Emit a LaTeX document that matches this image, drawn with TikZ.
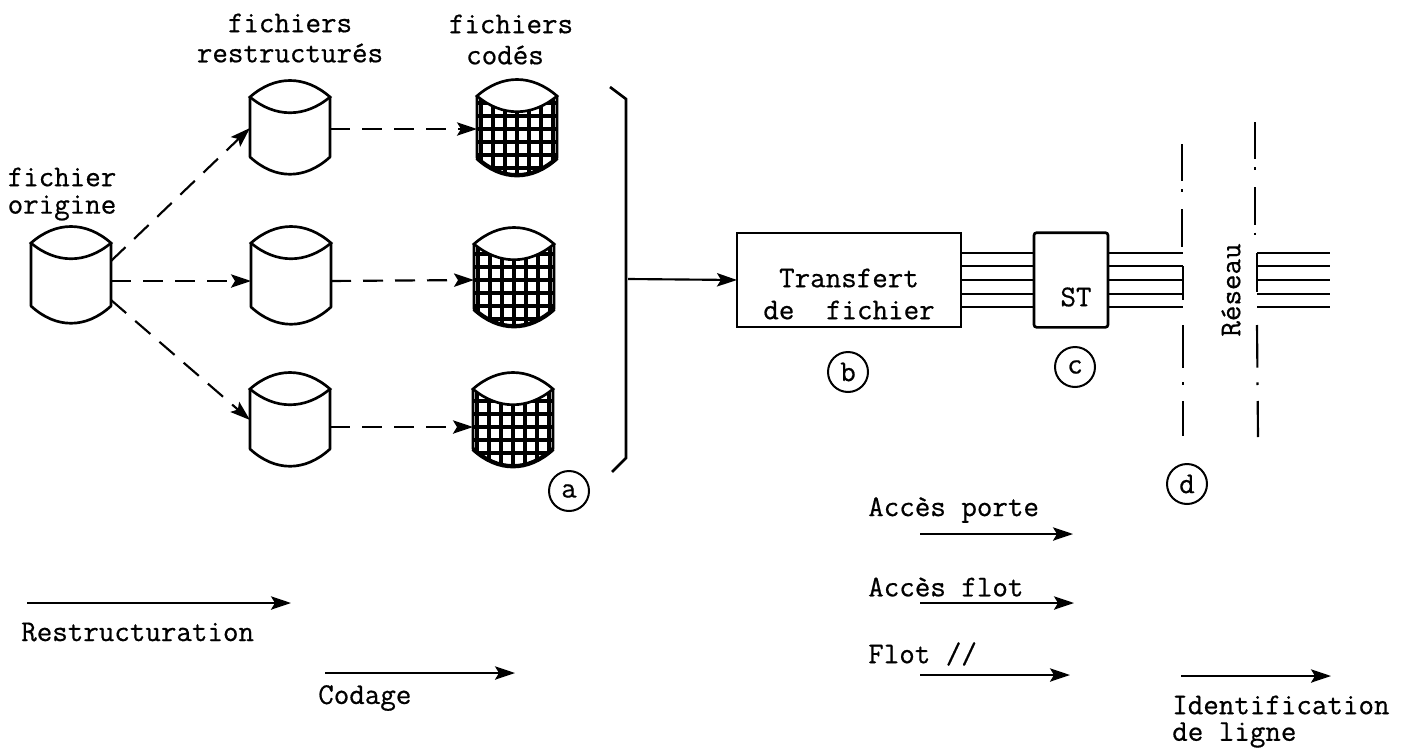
\documentclass[tikz,border=0pt]{standalone}
\usepackage{fontspec}
\newfontfamily\twfont{Latin Modern Mono}[FakeBold=0.6]
\usetikzlibrary{arrows.meta,calc}
\tikzset{
  ink/.style={line width=2pt,black},
  thin ink/.style={line width=1.6pt,black},
  arr/.style={thin ink,-{Stealth[length=15pt,width=10pt,inset=3pt]}},
  dasharr/.style={arr,dash pattern=on 15pt off 9pt},
  lab/.style={font=\fontsize{22.6}{24}\selectfont\twfont,inner sep=0pt,anchor=center},
  labl/.style={lab,anchor=west},
  circ/.style={circle,draw,line width=1.5pt,minimum size=30pt,inner sep=0pt,font=\fontsize{22.6}{24}\selectfont\twfont},
  anchorbox/.style={minimum width=60pt,minimum height=60pt,inner sep=0pt,outer sep=0pt},
  boxx/.style={draw,line width=2pt,inner sep=0pt,outer sep=0pt},
  dashdot/.style={thin ink,dash pattern=on 28pt off 6pt on 2pt off 13pt},
  dashdotb/.style={thin ink,dash pattern=on 32pt off 11pt on 2pt off 12pt}
}
% name, cx, cy(arrow level), corner offset, bottom corner offset, hatch (0/1)
\newcommand{\cylshape}[6]{%
  \node[anchorbox] (#1) at (#2,#3) {};
  \begin{scope}[shift={(#2,#3)}]
    \ifnum#6=1
      \begin{scope}
        \clip (-40,#4) .. controls (-15,{#4+21}) and (15,{#4+21}) .. (40,#4)
          -- (40,#5) .. controls (15,{#5+23}) and (-15,{#5+23}) .. (-40,#5) -- cycle;
        \foreach \vx in {-36,-24,...,36} \draw[line width=2.4pt] (\vx,-70) -- (\vx,80);
        \foreach \hy in {-65,-52,...,75} \draw[line width=2.4pt] (-45,\hy) -- (45,\hy);
      \end{scope}
      \draw[line width=3.2pt] (-40,#5) .. controls (-15,{#5+23}) and (15,{#5+23}) .. (40,#5);
    \fi
    \draw[ink] (-40,#4) .. controls (-15,{#4-22}) and (15,{#4-22}) .. (40,#4)
      .. controls (15,{#4+21}) and (-15,{#4+21}) .. (-40,#4) -- cycle;
    \draw[ink,line join=round] (-40,#4) -- (-40,#5) .. controls (-15,{#5+23}) and (15,{#5+23}) .. (40,#5) -- (40,#4);
  \end{scope}
}
\begin{document}
\begin{tikzpicture}[x=.75pt,y=-.75pt]
\useasboundingbox (0,0) rectangle (1406,753);
% titles
\node[lab] (t1) at (290,23) {fichiers};
\node[lab] (t2) at (290,53) {restructurés};
\node[lab] (t3) at (511,24) {fichiers};
\node[lab] (t4) at (505,55) {codés};
\node[lab] (t5) at (62,177) {fichier};
\node[lab] (t6) at (62,208) {origine};
% cylinders
\cylshape{o}{71}{281}{-38}{25}{0}
\cylshape{r1}{290}{129}{-32}{28}{0}
\cylshape{r2}{291}{281}{-38}{26}{0}
\cylshape{r3}{290}{427}{-38}{22}{0}
\cylshape{c1}{517}{129}{-33}{29}{1}
\cylshape{c2}{514}{280}{-36}{29}{1}
\cylshape{c3}{513}{427}{-38}{22}{1}
% connectors
\draw[dasharr] ($(o.east)+(0,-20)$) -- ($(r1.west)+(0,-1)$);
\draw[dasharr] (o.east) -- (r2.west);
\draw[dasharr] ($(o.east)+(0,19)$) -- ($(r3.west)+(0,-7)$);
\draw[dasharr] (r1.east) -- (c1.west);
\draw[dasharr] (r2.east) -- (c2.west);
\draw[dasharr] (r3.east) -- (c3.west);
% bracket
\coordinate (bt) at (610,87);
\coordinate (bb) at (612,472);
\coordinate (bm) at (628,279);
\draw[ink] (bt) -- (626,99) -- (626,458) -- (bb);
% boxes
\node[boxx,minimum width=168pt,minimum height=70.5pt] (tf) at (849,280) {};
\node[lab] (tf1) at (849,278) {Transfert};
\node[lab] (tf2) at (849,310) {de\hspace{1.05em}fichier};
\node[boxx,rounded corners=2pt,minimum width=55.5pt,minimum height=71pt] (st) at (1071,280) {};
\node[lab] (st1) at (1076,297) {ST};
\draw[arr] (bm) -- (tf.west);
% parallel lines
\foreach \i/\yy in {1/253,2/266,3/280,4/294,5/307}{
  \coordinate (a\i) at (tf.east |- 0,\yy);
  \coordinate (b\i) at (st.west |- 0,\yy);
  \coordinate (d\i) at (st.east |- 0,\yy);
  \coordinate (e\i) at (1183,\yy);
  \coordinate (f\i) at (1257,\yy);
  \coordinate (g\i) at (1330,\yy);
  \draw[ink] (a\i) -- (b\i);
  \draw[ink] (d\i) -- (e\i);
  \draw[ink] (f\i) -- (g\i);
}
% dash-dot network boundaries
\coordinate (n1a) at (1182,144); \coordinate (n1b) at (1182,249);
\coordinate (n1c) at (1183,266); \coordinate (n1d) at (1183,300);
\coordinate (n1e) at (1183,325); \coordinate (n1f) at (1183,436);
\coordinate (n2a) at (1255,122); \coordinate (n2b) at (1255,240);
\coordinate (n2c) at (1257,253); \coordinate (n2d) at (1257,292);
\coordinate (n2e) at (1257,325); \coordinate (n2f) at (1258,437);
\draw[dashdot] (n1a) -- (n1b);
\draw[thin ink] (n1c) -- (n1d);
\draw[dashdotb] (n1e) -- (n1f);
\draw[dashdot] (n2a) -- (n2b);
\draw[thin ink] (n2c) -- (n2d);
\draw[dashdotb] (n2e) -- (n2f);
\node[lab,rotate=90] (res) at (1231,290) {Réseau};
% circled letters
\node[circ] (ca) at (569,491) {a};
\node[circ] (cb) at (848,372) {b};
\node[circ] (cc) at (1075,367) {c};
\node[circ] (cd) at (1187,484) {d};
% legends
\coordinate (l1a) at (27,603); \coordinate (l1b) at (291,603);
\draw[arr] (l1a) -- (l1b);
\node[labl] (l1) at (21,632) {Restructuration};
\coordinate (l2a) at (325,673); \coordinate (l2b) at (515,673);
\draw[arr] (l2a) -- (l2b);
\node[labl] (l2) at (318,698) {Codage};
\node[labl] (l3) at (868,510) {Accès porte};
\coordinate (l3a) at (920,534); \coordinate (l3b) at (1073,534);
\draw[arr] (l3a) -- (l3b);
\node[labl] (l4) at (868,587) {Accès flot};
\coordinate (l4a) at (920,603); \coordinate (l4b) at (1074,603);
\draw[arr] (l4a) -- (l4b);
\node[labl] (l5) at (868,654) {Flot //};
\coordinate (l5a) at (920,675); \coordinate (l5b) at (1070,675);
\draw[arr] (l5a) -- (l5b);
\coordinate (l6a) at (1181,676); \coordinate (l6b) at (1331,676);
\draw[arr] (l6a) -- (l6b);
\node[labl] (l6) at (1172,705) {Identification};
\node[labl] (l7) at (1172,735) {de ligne};
\end{tikzpicture}
\end{document}
